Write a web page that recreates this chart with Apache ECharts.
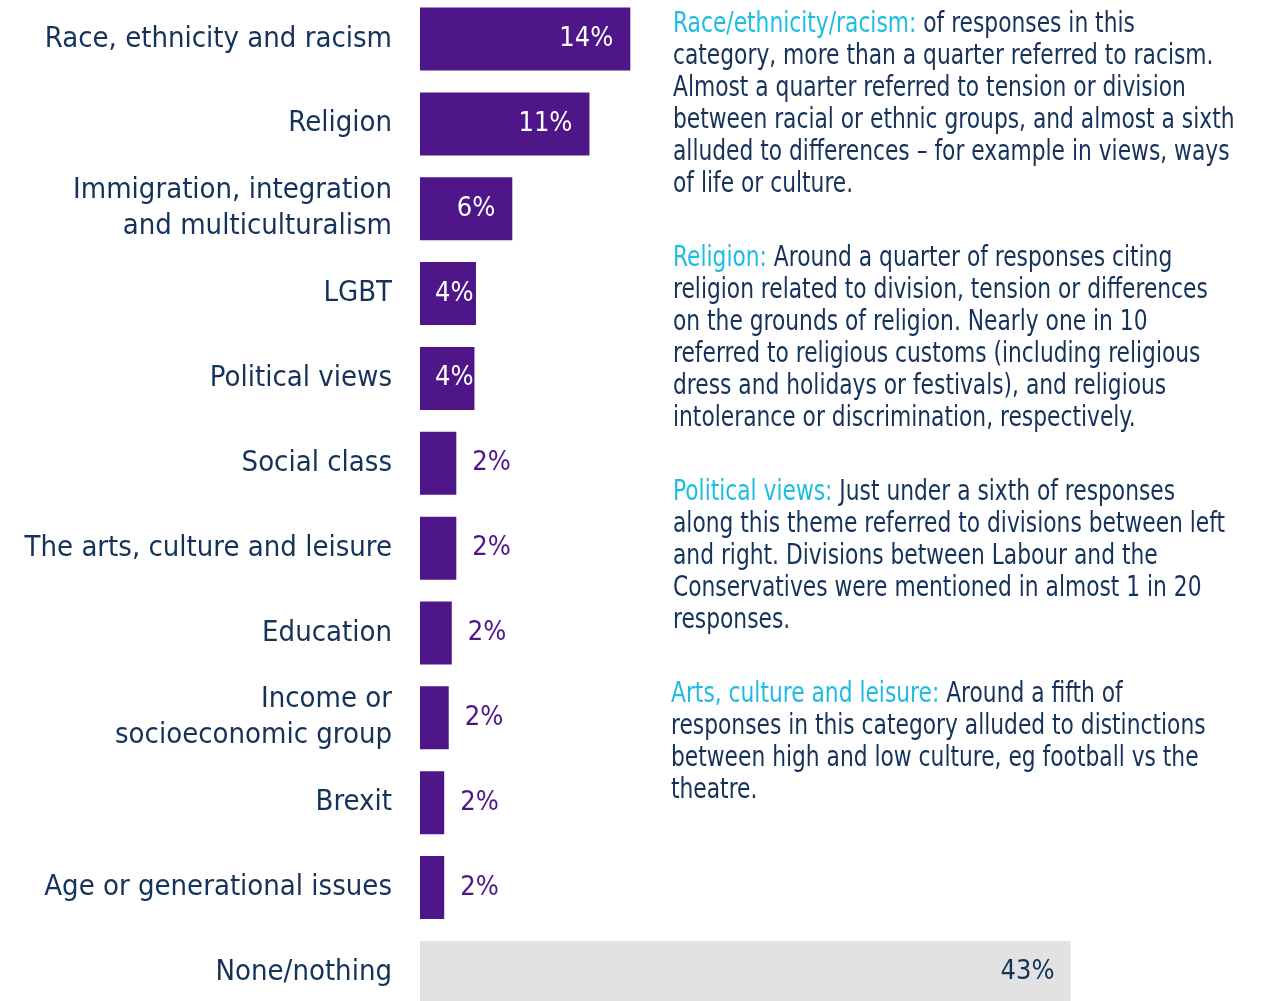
<!DOCTYPE html>
<html>
<head>
<meta charset="utf-8">
<title>Themes of division</title>
<script src="https://cdn.jsdelivr.net/npm/echarts@6/dist/echarts.min.js"></script>
<style>
  html, body { margin: 0; padding: 0; background: #ffffff; }
  #chart { width: 1261px; height: 1001px; }
</style>
</head>
<body>
<div id="chart"></div>
<script>
// Themes named in responses (% of responses)
const categories = [
  'Race, ethnicity and racism',
  'Religion',
  'Immigration, integration\nand multiculturalism',
  'LGBT',
  'Political views',
  'Social class',
  'The arts, culture and leisure',
  'Education',
  'Income or\nsocioeconomic group',
  'Brexit',
  'Age or generational issues',
  'None/nothing'
];
const values = [13.9, 11.2, 6.1, 3.7, 3.6, 2.4, 2.4, 2.1, 1.9, 1.6, 1.6, 43];

// Notes shown beside the bars: coloured heading, then body lines
const noteHeadings = [
  'Race/ethnicity/racism:',
  'Religion:',
  'Political views:',
  'Arts, culture and leisure:'
];
const noteBodies = [
  [' of responses in this',
   'category, more than a quarter referred to racism.',
   'Almost a quarter referred to tension or division',
   'between racial or ethnic groups, and almost a sixth',
   'alluded to differences \u2013 for example in views, ways',
   'of life or culture.'],
  [' Around a quarter of responses citing',
   'religion related to division, tension or differences',
   'on the grounds of religion. Nearly one in 10',
   'referred to religious customs (including religious',
   'dress and holidays or festivals), and religious',
   'intolerance or discrimination, respectively.'],
  [' Just under a sixth of responses',
   'along this theme referred to divisions between left',
   'and right. Divisions between Labour and the',
   'Conservatives were mentioned in almost 1 in 20',
   'responses.'],
  [' Around a fifth of',
   'responses in this category alluded to distinctions',
   'between high and low culture, eg football vs the',
   'theatre.']
];

const FONT = '"DejaVu Sans Condensed", "Liberation Sans Narrow", sans-serif';
const NAVY = '#15325a';
const PURPLE = '#4f1689';
const CYAN = '#1dbde3';
const GREY = '#e2e2e2';

const noteLayout = [
  { x: 673, y: 8 },
  { x: 673, y: 242 },
  { x: 673, y: 476 },
  { x: 671, y: 678 }
];

function labelFor(v, isNone) {
  const base = {
    show: true,
    fontFamily: FONT,
    fontSize: 27,
    formatter: p => Math.round(p.value) + '%'
  };
  if (isNone) return Object.assign(base, { position: 'insideRight', distance: 16, color: NAVY });
  if (v >= 5) return Object.assign(base, { position: 'insideRight', distance: 17, color: '#ffffff' });
  if (v >= 3) return Object.assign(base, { position: 'insideLeft', distance: 15, color: '#ffffff' });
  return Object.assign(base, { position: 'right', distance: 16, color: PURPLE });
}

const barData = values.map((v, i) => {
  const isNone = categories[i] === 'None/nothing';
  return {
    value: v,
    itemStyle: { color: isNone ? GREY : PURPLE },
    label: labelFor(v, isNone)
  };
});

// Condensed note paragraphs, drawn as rich text with a cyan lead-in
const graphics = noteHeadings.map((h, i) => ({
  type: 'text',
  x: noteLayout[i].x,
  y: noteLayout[i].y,
  scaleX: 0.835,
  style: {
    text: '{h|' + h + '}' + noteBodies[i].join('\n'),
    x: 0,
    y: 0,
    verticalAlign: 'top',
    fontFamily: FONT,
    fontSize: 29,
    lineHeight: 32,
    fill: NAVY,
    rich: {
      h: { fill: CYAN, fontFamily: FONT, fontSize: 29, lineHeight: 32 }
    }
  }
}));

const chart = echarts.init(document.getElementById('chart'), null, { renderer: 'canvas' });
chart.setOption({
  animation: false,
  backgroundColor: '#ffffff',
  grid: {
    left: 420, top: -3.4, height: 1018.2, right: 84.5,
    containLabel: false,
    outerBoundsMode: 'none'
  },
  xAxis: {
    type: 'value',
    min: 0,
    max: 50,
    show: false
  },
  yAxis: {
    type: 'category',
    data: categories,
    inverse: true,
    axisLine: { show: false },
    axisTick: { show: false },
    splitLine: { show: false },
    axisLabel: {
      color: NAVY,
      fontFamily: FONT,
      fontSize: 29,
      lineHeight: 36,
      margin: 28
    }
  },
  series: [{
    type: 'bar',
    data: barData,
    barWidth: 63
  }],
  graphic: graphics
});
</script>
</body>
</html>
